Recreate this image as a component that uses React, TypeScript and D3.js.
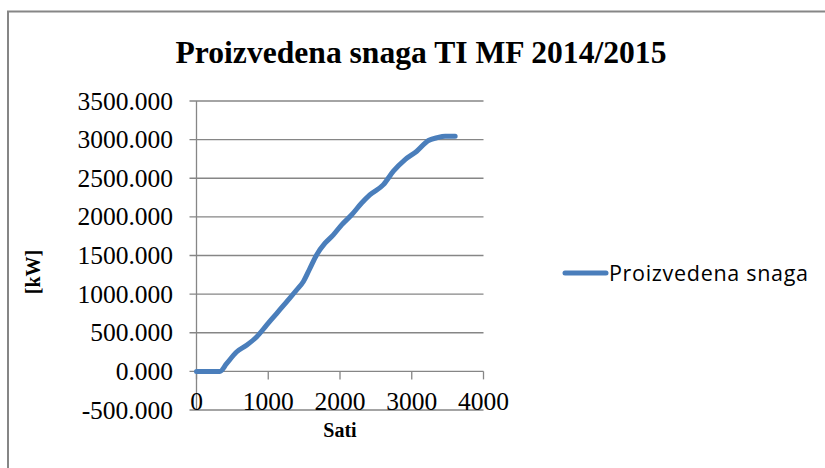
import React, { useEffect, useRef } from 'react';
import * as d3 from 'd3';

// hours (Sati) vs produced power [kW]
const sati = [0, 326, 419, 558, 698, 837, 977, 1116, 1256, 1395, 1488, 1581, 1674, 1791, 1907, 2023, 2163, 2302, 2419, 2605, 2744, 2907, 3070, 3233, 3349, 3465, 3605];
const snaga = [0, 0, 100, 251, 338, 446, 598, 749, 901, 1053, 1161, 1334, 1508, 1659, 1767, 1897, 2027, 2179, 2287, 2417, 2591, 2742, 2850, 2989, 3024, 3045, 3045];
const xTicks = [0, 1000, 2000, 3000, 4000];
const yTicks = [-500, 0, 500, 1000, 1500, 2000, 2500, 3000, 3500];

const title = 'Proizvedena snaga TI MF 2014/2015';
const seriesName = 'Proizvedena snaga';

const W = 825;
const H = 468;
const serif = '"Liberation Serif", "Times New Roman", serif';
const grid = '#868686';
const lineColor = '#4a7ebb';

const App = () => {
    const svgRef = useRef(null);

    useEffect(() => {
        const svg = d3.select(svgRef.current);
        svg.selectAll('*').remove();

        const x = d3.scaleLinear().domain([0, 4000]).range([196.5, 483.5]);
        const y = d3.scaleLinear().domain([-500, 3500]).range([410, 101]);

        // outer chart frame (right/bottom run off the picture)
        svg.append('rect')
            .attr('x', 8).attr('y', 11.5)
            .attr('width', 900).attr('height', 600)
            .attr('fill', '#fff')
            .attr('stroke', grid)
            .attr('stroke-width', 2);

        svg.append('text')
            .attr('x', 421).attr('y', 63)
            .attr('text-anchor', 'middle')
            .attr('font-family', serif)
            .attr('font-weight', 'bold')
            .attr('font-size', 31.6)
            .text(title);

        // horizontal gridlines + left ticks
        const g = svg.append('g');
        g.selectAll('line.grid')
            .data(yTicks)
            .join('line')
            .attr('class', 'grid')
            .attr('x1', x(0) - 7).attr('x2', x(4000))
            .attr('y1', (d) => y(d)).attr('y2', (d) => y(d))
            .attr('stroke', grid)
            .attr('stroke-width', 1.3);

        // vertical axis
        g.append('line')
            .attr('x1', x(0)).attr('x2', x(0))
            .attr('y1', y(3500)).attr('y2', y(-500))
            .attr('stroke', grid).attr('stroke-width', 1.3);

        // x ticks hang down from the zero line
        g.selectAll('line.xt')
            .data(xTicks)
            .join('line')
            .attr('class', 'xt')
            .attr('x1', (d) => x(d)).attr('x2', (d) => x(d))
            .attr('y1', y(0)).attr('y2', y(0) + 8)
            .attr('stroke', grid).attr('stroke-width', 1.3);

        const fmt = (d) => d3.format('.3f')(d).replace('\u2212', '-');
        g.selectAll('text.yl')
            .data(yTicks)
            .join('text')
            .attr('class', 'yl')
            .attr('x', 173)
            .attr('y', (d) => y(d) + 8.5)
            .attr('text-anchor', 'end')
            .attr('font-family', serif)
            .attr('font-size', 25.5)
            .text((d) => fmt(d));

        g.selectAll('text.xl')
            .data(xTicks)
            .join('text')
            .attr('class', 'xl')
            .attr('x', (d) => x(d))
            .attr('y', 410)
            .attr('text-anchor', 'middle')
            .attr('font-family', serif)
            .attr('font-size', 25.5)
            .text((d) => d);

        svg.append('text')
            .attr('x', 340).attr('y', 437)
            .attr('text-anchor', 'middle')
            .attr('font-family', serif)
            .attr('font-weight', 'bold')
            .attr('font-size', 20)
            .text('Sati');

        svg.append('text')
            .attr('transform', 'translate(40, 272) rotate(-90)')
            .attr('text-anchor', 'middle')
            .attr('font-family', serif)
            .attr('font-weight', 'bold')
            .attr('font-size', 20)
            .text('[kW]');

        const data = sati.map((s, i) => ({ s, v: snaga[i] }));
        const line = d3.line()
            .x((d) => x(d.s))
            .y((d) => y(d.v))
            .curve(d3.curveMonotoneX);

        svg.append('path')
            .datum(data)
            .attr('fill', 'none')
            .attr('stroke', lineColor)
            .attr('stroke-width', 5)
            .attr('stroke-linejoin', 'round')
            .attr('stroke-linecap', 'round')
            .attr('d', line);

        // legend
        svg.append('line')
            .attr('x1', 565).attr('x2', 606)
            .attr('y1', 273).attr('y2', 273)
            .attr('stroke', lineColor)
            .attr('stroke-width', 5)
            .attr('stroke-linecap', 'round');

        svg.append('text')
            .attr('x', 609).attr('y', 280.5)
            .attr('font-family', '"Open Sans", "Noto Sans", sans-serif')
            .attr('font-size', 21.5)
            .attr('textLength', 199)
            .attr('lengthAdjust', 'spacing')
            .text(seriesName);
    }, []);

    return (
        <svg
            ref={svgRef}
            width={W}
            height={H}
            style={{ position: 'absolute', left: 0, top: 0, display: 'block', background: '#fff' }}
        />
    );
};

export default App;
